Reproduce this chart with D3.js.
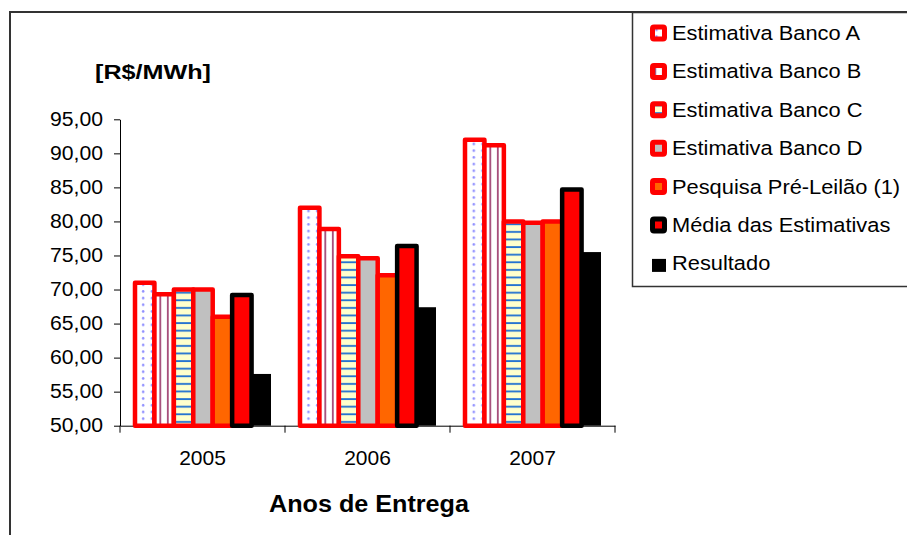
<!DOCTYPE html>
<html>
<head>
<meta charset="utf-8">
<script src="https://cdn.jsdelivr.net/npm/d3@7/dist/d3.min.js"></script>
<style>
    body { margin: 0; background: #fff; }
    svg { display: block; font-family: Arial, "Liberation Sans", sans-serif; }
</style>
</head>
<body>
<svg id="chart"></svg>
<script>
// data
var years = ['2005', '2006', '2007'];
var seriesNames = ['Estimativa Banco A', 'Estimativa Banco B', 'Estimativa Banco C',
    'Estimativa Banco D', 'Pesquisa Pré-Leilão (1)', 'Média das Estimativas', 'Resultado'];
var bancoA = [71.0, 82.0, 92.0];
var bancoB = [69.3, 78.9, 91.2];
var bancoC = [70.0, 74.9, 80.0];
var bancoD = [70.0, 74.6, 79.8];
var pesquisa = [66.0, 72.1, 80.0];
var media = [69.2, 76.4, 84.7];
var resultado = [57.6, 67.4, 75.5];
var yTicks = [50, 55, 60, 65, 70, 75, 80, 85, 90, 95];

var seriesValues = [bancoA, bancoB, bancoC, bancoD, pesquisa, media, resultado];

var svgWidth = 907;
var svgHeight = 535;

var svg = d3.select('#chart')
    .attr('width', svgWidth)
    .attr('height', svgHeight);

// fills and patterns
var defs = svg.append('defs');

var dots = defs.append('pattern').attr('id', 'dots')
    .attr('patternUnits', 'userSpaceOnUse')
    .attr('width', 8.7).attr('height', 6.7);
dots.append('rect').attr('width', 8.7).attr('height', 6.7).attr('fill', '#fff');
dots.append('circle').attr('cx', 4).attr('cy', 3.3).attr('r', 1.3).attr('fill', '#8f8fff');

var vlines = defs.append('pattern').attr('id', 'vlines')
    .attr('patternUnits', 'userSpaceOnUse')
    .attr('width', 7.5).attr('height', 10);
vlines.append('rect').attr('width', 7.5).attr('height', 10).attr('fill', '#fff');
vlines.append('rect').attr('x', 2).attr('width', 1.6).attr('height', 10).attr('fill', '#993366');

var hlines = defs.append('pattern').attr('id', 'hlines')
    .attr('patternUnits', 'userSpaceOnUse')
    .attr('width', 10).attr('height', 7.6);
hlines.append('rect').attr('width', 10).attr('height', 7.6).attr('fill', '#ffffcc');
hlines.append('rect').attr('y', 3).attr('width', 10).attr('height', 1.8).attr('fill', '#1f6fd0');

var fills = ['url(#dots)', 'url(#vlines)', 'url(#hlines)', '#c0c0c0', '#ff6600', '#ff0000', '#000000'];
var strokes = ['#ff0000', '#ff0000', '#ff0000', '#ff0000', '#ff0000', '#000000', 'none'];

// outer frame
svg.append('path')
    .attr('d', 'M10,535V12H907')
    .attr('fill', 'none')
    .attr('stroke', '#333')
    .attr('stroke-width', 2);

// scales
var xScale = d3.scaleBand()
    .domain(years)
    .range([120, 615]);

var xInner = d3.scaleBand()
    .domain(d3.range(seriesNames.length))
    .range([15, 151]);

var yScale = d3.scaleLinear()
    .domain([50, 95])
    .range([425.7, 119.3]);

var ptBR = d3.formatLocale({ decimal: ',', thousands: '.', grouping: [3], currency: ['R$', ''] });

var yAxis = d3.axisLeft(yScale)
    .tickValues(yTicks)
    .tickFormat(ptBR.format('.2f'))
    .tickSize(6)
    .tickSizeOuter(0)
    .tickPadding(11);

var xAxis = d3.axisBottom(xScale)
    .tickSize(0)
    .tickPadding(24);

// axes
var gx = svg.append('g')
    .attr('transform', 'translate(0,' + yScale(50) + ')')
    .call(xAxis);
gx.select('.domain').attr('stroke', '#000');
gx.selectAll('text')
    .attr('font-size', 21)
    .attr('fill', '#000');

var bounds = years.map(function (d) { return xScale(d); }).concat([xScale.range()[1]]);
gx.selectAll('line.bound')
    .data(bounds)
    .enter()
    .append('line')
    .attr('class', 'bound')
    .attr('x1', function (d) { return d; })
    .attr('x2', function (d) { return d; })
    .attr('y1', 0)
    .attr('y2', 7)
    .attr('stroke', '#000');

// bars
var groups = svg.selectAll('g.serie')
    .data(seriesValues)
    .enter()
    .append('g')
    .attr('class', 'serie');

groups.selectAll('rect')
    .data(function (d, i) {
        return d.map(function (v, j) { return { s: i, year: years[j], value: v }; });
    })
    .enter()
    .append('rect')
    .attr('x', function (d) { return xScale(d.year) + xInner(d.s); })
    .attr('y', function (d) { return yScale(d.value); })
    .attr('width', xInner.bandwidth())
    .attr('height', function (d) { return yScale(50) - yScale(d.value); })
    .attr('fill', function (d) { return fills[d.s]; })
    .attr('stroke', function (d) { return strokes[d.s]; })
    .attr('stroke-width', 4.5)
    .attr('stroke-linejoin', 'round');

var gy = svg.append('g')
    .attr('transform', 'translate(120,0)')
    .call(yAxis);
gy.select('.domain').attr('stroke', '#000');
gy.selectAll('.tick line').attr('stroke', '#000');
gy.selectAll('text')
    .attr('font-size', 19.5)
    .attr('fill', '#000')
    .attr('textLength', 53)
    .attr('lengthAdjust', 'spacingAndGlyphs');

// titles
svg.append('text')
    .attr('x', 95)
    .attr('y', 79)
    .attr('font-size', 20)
    .attr('font-weight', 'bold')
    .attr('textLength', 116)
    .attr('lengthAdjust', 'spacingAndGlyphs')
    .text('[R$/MWh]');

svg.append('text')
    .attr('x', 269)
    .attr('y', 512)
    .attr('font-size', 23)
    .attr('font-weight', 'bold')
    .attr('textLength', 200)
    .attr('lengthAdjust', 'spacingAndGlyphs')
    .text('Anos de Entrega');

// legend
svg.append('rect')
    .attr('x', 632.5)
    .attr('y', 12.5)
    .attr('width', 300)
    .attr('height', 274)
    .attr('fill', '#fff')
    .attr('stroke', '#333')
    .attr('stroke-width', 1.5);

var legend = svg.selectAll('g.legend')
    .data(seriesNames)
    .enter()
    .append('g')
    .attr('class', 'legend')
    .attr('transform', function (d, i) { return 'translate(0,' + (40 + i * 38.4) + ')'; });

legend.append('rect')
    .attr('x', function (d, i) { return i < 6 ? 652.5 : 652; })
    .attr('y', function (d, i) { return i < 6 ? -13 : -11.5; })
    .attr('width', function (d, i) { return i < 6 ? 12 : 14; })
    .attr('height', function (d, i) { return i < 6 ? 12 : 13; })
    .attr('rx', function (d, i) { return i < 6 ? 1.5 : 0; })
    .attr('fill', function (d, i) { return fills[i]; })
    .attr('stroke', function (d, i) { return strokes[i]; })
    .attr('stroke-width', 5);

legend.append('text')
    .attr('transform', 'translate(672,0) scale(1.12,1)')
    .attr('font-size', 19.5)
    .attr('fill', '#000')
    .text(function (d) { return d; });
</script>
</body>
</html>
